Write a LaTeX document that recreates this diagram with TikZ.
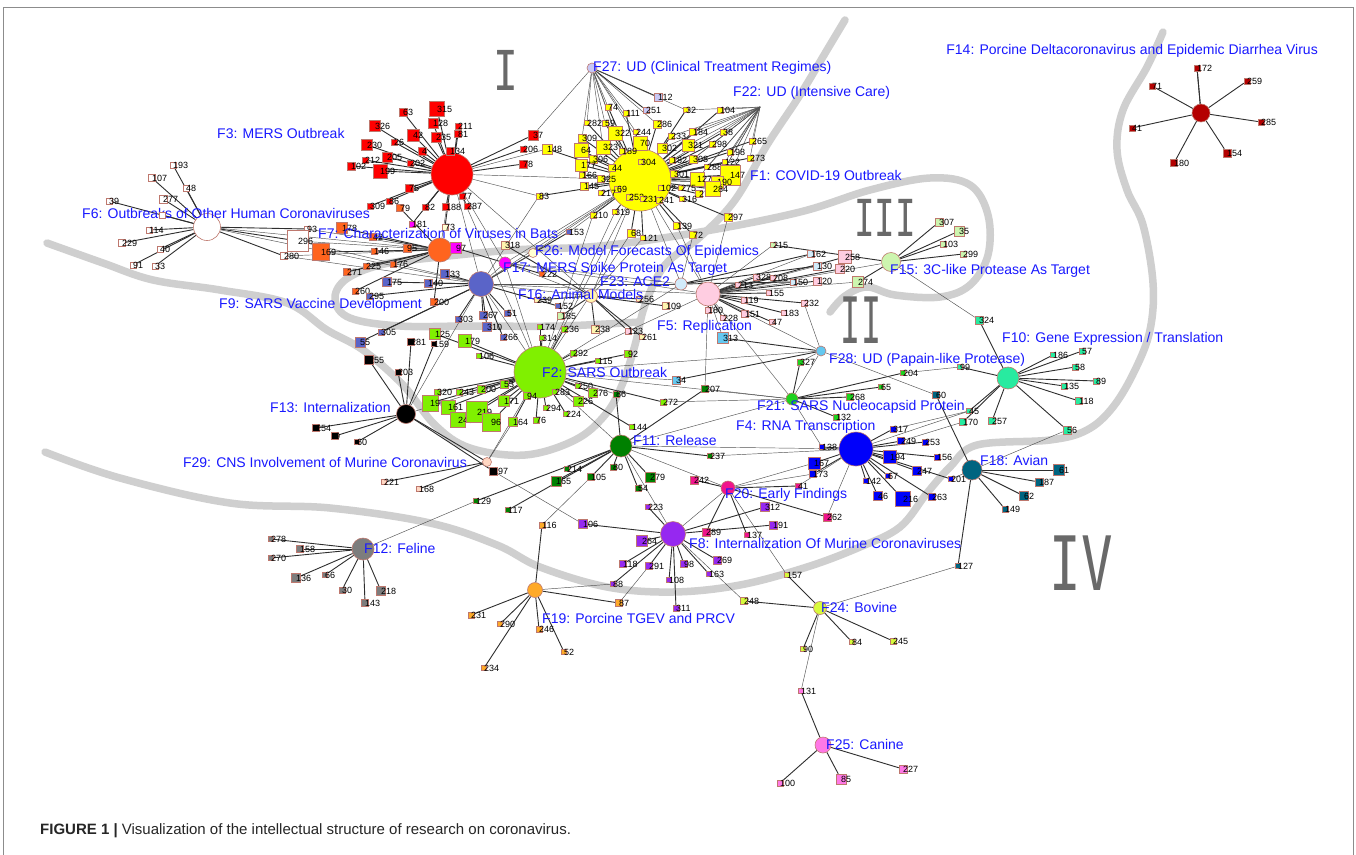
\documentclass[tikz,border=0pt]{standalone}
\usepackage{fontspec}
\setmainfont{Liberation Sans}
\newfontfamily\romfont{DejaVu Sans Mono}
\usepackage{graphicx}
\pgfdeclarelayer{bg}
\pgfsetlayers{bg,main}
\definecolor{sqborder}{RGB}{190,120,110}
\definecolor{labblue}{RGB}{25,25,255}
\definecolor{romgray}{RGB}{105,105,105}
\definecolor{cF1}{RGB}{255,255,0}
\definecolor{cF2}{RGB}{128,240,0}
\definecolor{cF3}{RGB}{255,0,0}
\definecolor{cF4}{RGB}{0,0,250}
\definecolor{cF5}{RGB}{255,205,225}
\definecolor{cF7}{RGB}{255,100,30}
\definecolor{cF8}{RGB}{150,40,240}
\definecolor{cF9}{RGB}{90,100,200}
\definecolor{cF10}{RGB}{40,235,160}
\definecolor{cF11}{RGB}{0,128,0}
\definecolor{cF12}{RGB}{125,125,125}
\definecolor{cF14}{RGB}{180,0,0}
\definecolor{cF15}{RGB}{205,245,175}
\definecolor{cF16}{RGB}{255,245,175}
\definecolor{cF17}{RGB}{255,0,255}
\definecolor{cF18}{RGB}{0,100,128}
\definecolor{cF19}{RGB}{255,170,40}
\definecolor{cF20}{RGB}{240,20,140}
\definecolor{cF21}{RGB}{30,210,30}
\definecolor{cF23}{RGB}{210,235,250}
\definecolor{cF24}{RGB}{215,250,60}
\definecolor{cF25}{RGB}{255,120,230}
\definecolor{cF26}{RGB}{255,255,210}
\definecolor{cF27}{RGB}{200,200,245}
\definecolor{cF28}{RGB}{100,200,240}
\definecolor{cF29}{RGB}{255,215,195}
\tikzset{
  sqb/.style={rectangle, draw=sqborder, line width=0.5pt, inner sep=0pt},
  numl/.style={anchor=west, inner sep=0pt, font=\fontsize{9}{9}\selectfont, text=black},
  hubc/.style={circle, draw=sqborder, line width=0.6pt, inner sep=0pt},
  edg/.style={line width=0.9pt, draw=black!82},
  xedg/.style={line width=0.45pt, draw=black!68},
  flab/.style={anchor=west, inner sep=0pt, font=\fontsize{14}{14}\selectfont, text=labblue},
  roman/.style={inner sep=0pt, text=romgray},
  band/.style={line width=7.5pt, draw=black!19, line cap=round, line join=round}
}
\newcommand\romtext[3]{\scalebox{#2}[1]{\romfont\fontsize{#1}{#1}\selectfont #3}}
\gdef\hubedges{f14/ff172}
\newcommand\sqnode[7]{%
  \node[sqb,minimum size=#4pt,fill=#5] (#1) at (#2,#3) {};%
  \node[numl] (#1t) at (#2,#3) {#6};%
  \xdef\hubedges{\hubedges,#7/#1}}
\begin{document}
\begin{tikzpicture}[x=1pt,y=-1pt]
\useasboundingbox (0,0) rectangle (1356,854);
\begin{pgfonlayer}{bg}
\fill[white] (0,0) rectangle (1356,854);
\draw[black!45, line width=0.8pt] (3,7) rectangle (1353,870);
\draw[band] plot[smooth, tension=0.6] coordinates {(47,243) (103,263) (153,280) (220,290) (287,303) (327,330) (363,350) (403,385) (435,425) (470,448) (525,455) (575,440) (605,415) (622,385) (635,345) (645,305) (665,265) (700,237) (735,200) (767,145) (800,95) (827,50) (845,20)};
\draw[band] plot[smooth, tension=0.6] coordinates {(640,322) (560,326) (470,326) (400,326) (350,318) (335,300) (345,280) (380,265) (430,258) (513,250) (600,246) (700,232) (800,212) (870,190) (930,178) (970,185) (988,215) (988,255) (970,285) (940,297) (895,295) (867,287) (845,296) (830,312)};
\draw[band] plot[smooth, tension=0.6] coordinates {(45,452) (120,478) (230,503) (330,508) (430,523) (497,545) (540,567) (607,587) (673,592) (740,585) (807,567) (860,547) (900,527) (927,493) (950,467) (977,445) (1050,440) (1087,430) (1113,407) (1135,370) (1150,330) (1153,283) (1143,225) (1127,190) (1117,150) (1123,110) (1147,67) (1163,32)};
\end{pgfonlayer}
\node[roman] (r1) at (506,70) {\romtext{55}{0.75}{I}};
\node[roman] (r2) at (861,320) {\romtext{64}{0.52}{II}};
\node[roman] (r3) at (885,218) {\romtext{51}{0.67}{III}};
\node[roman] (r4) at (1081,563) {\romtext{75}{0.7}{IV}};
% hubs
\node[hubc,minimum size=62pt,fill=cF1] (f1) at (640,180) {};
\node[hubc,minimum size=52pt,fill=cF2] (f2) at (540,372) {};
\node[hubc,minimum size=42pt,fill=cF3] (f3) at (452,174) {};
\node[hubc,minimum size=34pt,fill=cF4] (f4) at (856,449) {};
\node[hubc,minimum size=24pt,fill=cF5] (f5) at (708,294) {};
\node[hubc,minimum size=27pt,fill=white] (f6) at (207,227) {};
\node[hubc,minimum size=24pt,fill=cF7] (f7) at (440,250) {};
\node[hubc,minimum size=25pt,fill=cF8] (f8) at (673,534) {};
\node[hubc,minimum size=25pt,fill=cF9] (f9) at (481,284) {};
\node[hubc,minimum size=22pt,fill=cF10] (f10) at (1008,378) {};
\node[hubc,minimum size=22pt,fill=cF11] (f11) at (621,446) {};
\node[hubc,minimum size=22pt,fill=cF12] (f12) at (363,549) {};
\node[hubc,minimum size=19pt,fill=black] (f13) at (406,414) {};
\node[hubc,minimum size=18pt,fill=cF14] (f14) at (1201,113) {};
\node[hubc,minimum size=19pt,fill=cF15] (f15) at (891,262) {};
\node[hubc,minimum size=13pt,fill=cF16] (f16) at (591,296) {};
\node[hubc,minimum size=12pt,fill=cF17] (f17) at (505,263) {};
\node[hubc,minimum size=20pt,fill=cF18] (f18) at (972,470) {};
\node[hubc,minimum size=15pt,fill=cF19] (f19) at (535,590) {};
\node[hubc,minimum size=14pt,fill=cF20] (f20) at (728,488) {};
\node[hubc,minimum size=12pt,fill=cF21] (f21) at (792,399) {};
\coordinate (f22) at (760,107);
\node[hubc,minimum size=12pt,fill=cF23] (f23) at (681,284) {};
\node[hubc,minimum size=13pt,fill=cF24] (f24) at (820,608) {};
\node[hubc,minimum size=16pt,fill=cF25] (f25) at (823,745) {};
\node[hubc,minimum size=9pt,fill=cF26] (f26) at (533,253) {};
\node[hubc,minimum size=10pt,fill=cF27] (f27) at (592,68) {};
\node[hubc,minimum size=10pt,fill=cF28] (f28) at (821,351) {};
\node[hubc,minimum size=9pt,fill=cF29] (f29) at (487,462) {};
% F3 cluster
\sqnode{a63}{403}{112}{8}{cF3}{63}{f3}
\sqnode{a315}{437}{109}{15}{cF3}{315}{f3}
\sqnode{a128}{433}{123}{10}{cF3}{128}{f3}
\sqnode{a211}{458}{126}{6}{cF3}{211}{f3}
\sqnode{a81}{458}{134}{7}{cF3}{81}{f3}
\sqnode{a326}{375}{126}{11}{cF3}{326}{f3}
\sqnode{a26}{394}{142}{6}{cF3}{26}{f3}
\sqnode{a42}{413}{135}{12}{cF3}{42}{f3}
\sqnode{a235}{436}{137}{10}{cF3}{235}{f3}
\sqnode{a134}{450}{151}{8}{cF3}{134}{f3}
\sqnode{a4}{422}{151}{8}{cF3}{4}{f3}
\sqnode{a230}{367}{145}{11}{cF3}{230}{f3}
\sqnode{a205}{387}{157}{10}{cF3}{205}{f3}
\sqnode{a212}{365}{160}{6}{cF3}{212}{f3}
\sqnode{a202}{410}{163}{6}{cF3}{202}{f3}
\sqnode{a102}{351}{166}{8}{cF3}{102}{f3}
\sqnode{a199}{380}{171}{14}{cF3}{199}{f3}
\sqnode{a75}{409}{188}{8}{cF3}{75}{f3}
\sqnode{a86}{389}{201}{6}{cF3}{86}{f3}
\sqnode{a309}{370}{206}{6}{cF3}{309}{f3}
\sqnode{a82}{425}{207}{6}{cF3}{82}{f3}
\sqnode{a188}{446}{207}{7}{cF3}{188}{f3}
\sqnode{a287}{467}{206}{6}{cF3}{287}{f3}
\sqnode{a77}{462}{196}{6}{cF3}{77}{f3}
\sqnode{a37}{533}{135}{10}{cF3}{37}{f3}
\sqnode{a206}{523}{149}{6}{cF3}{206}{f3}
\sqnode{a78}{523}{164}{8}{cF3}{78}{f3}
\sqnode{a181}{412}{224}{6}{cF17}{181}{f3}
\sqnode{a73}{445}{227}{6}{cF26}{73}{f3}
% F6 cluster
\sqnode{w193}{173}{165}{6}{white}{193}{f6}
\sqnode{w107}{152}{178}{7}{white}{107}{f6}
\sqnode{w48}{186}{188}{6}{white}{48}{f6}
\sqnode{w277}{163}{199}{8}{white}{277}{f6}
\sqnode{w39}{109}{201}{6}{white}{39}{f6}
\sqnode{w114}{149}{230}{6}{white}{114}{f6}
\sqnode{w229}{122}{243}{7}{white}{229}{f6}
\sqnode{w40}{160}{249}{6}{white}{40}{f6}
\sqnode{w91}{133}{265}{6}{white}{91}{f6}
\sqnode{w33}{155}{266}{6}{white}{33}{f6}
\sqnode{w93}{307}{229}{5}{white}{93}{f6}
\sqnode{w296}{298}{241}{21}{white}{296}{f6}
\sqnode{w280}{284}{256}{7}{white}{280}{f6}
% F7 cluster
\sqnode{o79}{400}{208}{7}{cF7}{79}{f7}
\sqnode{o178}{342}{228}{11}{cF7}{178}{f7}
\sqnode{o169}{321}{252}{17}{cF7}{169}{f7}
\sqnode{o42}{373}{237}{7}{cF7}{42}{f7}
\sqnode{o146}{374}{251}{6}{cF7}{146}{f7}
\sqnode{o95}{407}{248}{8}{cF7}{95}{f7}
\sqnode{o225}{366}{266}{6}{cF7}{225}{f7}
\sqnode{o176}{393}{264}{6}{cF7}{176}{f7}
\sqnode{o271}{347}{272}{7}{cF7}{271}{f7}
\sqnode{o260}{355}{291}{6}{cF7}{260}{f7}
\sqnode{o200}{434}{302}{7}{cF7}{200}{f7}
\sqnode{o97}{456}{248}{11}{cF17}{97}{f17}
\sqnode{o222}{542}{274}{5}{cF7}{222}{f17}
% F9 cluster
\sqnode{v133}{445}{274}{9}{cF9}{133}{f9}
\sqnode{v175}{387}{282}{9}{cF9}{175}{f9}
\sqnode{v140}{428}{283}{8}{cF9}{140}{f9}
\sqnode{v295}{369}{296}{6}{cF9}{295}{f9}
\sqnode{v303}{458}{319}{6}{cF9}{303}{f9}
\sqnode{v267}{483}{315}{8}{cF9}{267}{f9}
\sqnode{v51}{507}{313}{6}{cF9}{51}{f9}
\sqnode{v310}{487}{327}{9}{cF9}{310}{f9}
\sqnode{v266}{503}{337}{6}{cF9}{266}{f9}
\sqnode{v305}{381}{332}{6}{cF9}{305}{f9}
\sqnode{v55}{360}{342}{10}{cF9}{55}{f9}
\sqnode{v153}{569}{232}{5}{cF9}{153}{f9}
\sqnode{v152}{558}{306}{5}{cF9}{152}{f9}
% F13 cluster
\sqnode{k281}{411}{342}{7}{black}{281}{f13}
\sqnode{k159}{434}{344}{5}{black}{159}{f13}
\sqnode{k255}{369}{360}{9}{black}{255}{f13}
\sqnode{k203}{398}{372}{6}{black}{203}{f13}
\sqnode{k254}{316}{428}{7}{black}{254}{f13}
\sqnode{k9}{335}{436}{7}{black}{9}{f13}
\sqnode{k60}{357}{442}{5}{black}{60}{f13}
\sqnode{k197}{493}{471}{8}{black}{197}{f13}
% F29 cluster
\sqnode{c221}{384}{482}{5}{cF29}{221}{f29}
\sqnode{c168}{419}{489}{5}{cF29}{168}{f29}
% F2 cluster
\sqnode{g125}{435}{334}{11}{cF2}{125}{f2}
\sqnode{g179}{465}{341}{13}{cF2}{179}{f2}
\sqnode{g106}{479}{356}{5}{cF2}{106}{f2}
\sqnode{g174}{540}{327}{5}{cF2}{174}{f2}
\sqnode{g236}{564}{329}{6}{cF2}{236}{f2}
\sqnode{g314}{542}{338}{5}{cF2}{314}{f2}
\sqnode{g292}{573}{353}{6}{cF2}{292}{f2}
\sqnode{g115}{598}{361}{5}{cF2}{115}{f2}
\sqnode{g92}{628}{354}{7}{cF2}{92}{f2}
\sqnode{g320}{437}{392}{6}{cF2}{320}{f2}
\sqnode{g243}{459}{392}{6}{cF2}{243}{f2}
\sqnode{g200}{481}{389}{8}{cF2}{200}{f2}
\sqnode{g53}{504}{384}{8}{cF2}{53}{f2}
\sqnode{g195}{430}{403}{16}{cF2}{195}{f2}
\sqnode{g161}{448}{407}{14}{cF2}{161}{f2}
\sqnode{g240}{458}{420}{15}{cF2}{240}{f2}
\sqnode{g219}{477}{412}{21}{cF2}{219}{f2}
\sqnode{g96}{491}{422}{18}{cF2}{96}{f2}
\sqnode{g171}{504}{401}{11}{cF2}{171}{f2}
\sqnode{g94}{527}{396}{7}{cF2}{94}{f2}
\sqnode{g164}{513}{422}{9}{cF2}{164}{f2}
\sqnode{g76}{536}{420}{6}{cF2}{76}{f2}
\sqnode{g294}{546}{408}{5}{cF2}{294}{f2}
\sqnode{g224}{566}{414}{5}{cF2}{224}{f2}
\sqnode{g283}{555}{392}{5}{cF2}{283}{f2}
\sqnode{g250}{578}{386}{5}{cF2}{250}{f2}
\sqnode{g276}{593}{393}{9}{cF2}{276}{f2}
\sqnode{g226}{578}{401}{10}{cF2}{226}{f2}
\sqnode{g272}{663}{402}{6}{cF2}{272}{f2}
\sqnode{g144}{632}{427}{5}{cF2}{144}{f2}
% F16 cluster
\sqnode{h318}{505}{245}{8}{cF16}{318}{f16}
\sqnode{h239}{537}{300}{5}{cF16}{239}{f16}
\sqnode{h185}{561}{316}{7}{cF15}{185}{f16}
\sqnode{h238}{595}{329}{8}{cF16}{238}{f16}
\sqnode{h256}{639}{299}{5}{cF16}{256}{f16}
\sqnode{h109}{666}{306}{7}{cF16}{109}{f16}
\sqnode{h123}{628}{331}{6}{cF5}{123}{f16}
\sqnode{h261}{642}{337}{5}{cF16}{261}{f16}
% F1 cluster
\sqnode{y74}{608}{107}{6}{cF1}{74}{f1}
\sqnode{y111}{626}{113}{6}{cF1}{111}{f1}
\sqnode{q251}{646}{110}{6}{cF27}{251}{f27}
\sqnode{q112}{658}{97}{8}{cF27}{112}{f27}
\sqnode{y32}{686}{110}{5}{cF1}{32}{f1}
\sqnode{y104}{720}{110}{6}{cF1}{104}{f1}
\sqnode{y282}{587}{123}{5}{cF1}{282}{f1}
\sqnode{y59}{605}{123}{6}{cF1}{59}{f1}
\sqnode{y322}{615}{133}{14}{cF1}{322}{f1}
\sqnode{y286}{657}{124}{8}{cF1}{286}{f1}
\sqnode{y244}{636}{132}{5}{cF1}{244}{f1}
\sqnode{y233}{671}{136}{6}{cF1}{233}{f1}
\sqnode{y184}{693}{132}{7}{cF1}{184}{f1}
\sqnode{y38}{723}{132}{6}{cF1}{38}{f1}
\sqnode{y309}{582}{138}{8}{cF1}{309}{f1}
\sqnode{y64}{581}{150}{14}{cF1}{64}{f1}
\sqnode{y323}{603}{147}{14}{cF1}{323}{f1}
\sqnode{y70}{640}{143}{14}{cF1}{70}{f1}
\sqnode{y189}{622}{151}{6}{cF1}{189}{f1}
\sqnode{y302}{662}{148}{10}{cF1}{302}{f1}
\sqnode{y321}{688}{145}{12}{cF1}{321}{f1}
\sqnode{y298}{712}{144}{6}{cF1}{298}{f1}
\sqnode{y306}{593}{159}{8}{cF1}{306}{f1}
\sqnode{y182}{672}{160}{6}{cF1}{182}{f1}
\sqnode{y308}{693}{159}{8}{cF1}{308}{f1}
\sqnode{y198}{730}{152}{6}{cF1}{198}{f1}
\sqnode{y122}{725}{162}{5}{cF1}{122}{f1}
\sqnode{y177}{581}{165}{12}{cF1}{177}{f1}
\sqnode{y44}{612}{168}{7}{cF1}{44}{f1}
\sqnode{y304}{641}{162}{5}{cF1}{304}{f1}
\sqnode{y288}{707}{167}{5}{cF1}{288}{f1}
\sqnode{y166}{582}{175}{6}{cF1}{166}{f1}
\sqnode{y325}{601}{179}{7}{cF1}{325}{f1}
\sqnode{y301}{674}{174}{7}{cF1}{301}{f1}
\sqnode{y147}{730}{175}{20}{cF1}{147}{f1}
\sqnode{y127}{697}{179}{14}{cF1}{127}{f1}
\sqnode{y190}{717}{182}{12}{cF1}{190}{f1}
\sqnode{y145}{584}{186}{8}{cF1}{145}{f1}
\sqnode{y69}{617}{189}{6}{cF1}{69}{f1}
\sqnode{y217}{601}{193}{5}{cF1}{217}{f1}
\sqnode{y102}{661}{188}{5}{cF1}{102}{f1}
\sqnode{y275}{681}{188}{5}{cF1}{275}{f1}
\sqnode{y27}{699}{194}{7}{cF1}{27}{f1}
\sqnode{y284}{713}{189}{15}{cF1}{284}{f1}
\sqnode{y252}{629}{197}{6}{cF1}{252}{f1}
\sqnode{y231}{643}{199}{5}{cF1}{231}{f1}
\sqnode{y241}{659}{200}{6}{cF1}{241}{f1}
\sqnode{y316}{682}{199}{5}{cF1}{316}{f1}
\sqnode{y210}{593}{215}{6}{cF1}{210}{f1}
\sqnode{y319}{615}{212}{5}{cF1}{319}{f1}
\sqnode{y297}{728}{217}{8}{cF1}{297}{f1}
\sqnode{y139}{677}{226}{7}{cF1}{139}{f1}
\sqnode{y265}{752}{141}{6}{cF1}{265}{f1}
\sqnode{y273}{750}{158}{6}{cF1}{273}{f1}
\sqnode{y83}{539}{196}{6}{cF1}{83}{f1}
\sqnode{y68}{631}{233}{8}{cF1}{68}{f1}
\sqnode{y121}{643}{238}{5}{cF1}{121}{f1}
\sqnode{y72}{693}{235}{7}{cF1}{72}{f1}
\sqnode{y148}{547}{149}{10}{cF1}{148}{f1}
% F5 cluster
\sqnode{p328}{756}{277}{6}{cF5}{328}{f5}
\sqnode{p208}{773}{278}{5}{cF5}{208}{f5}
\sqnode{p120}{817}{281}{8}{cF5}{120}{f5}
\sqnode{p213}{738}{285}{5}{cF5}{213}{f5}
\sqnode{p155}{769}{293}{5}{cF5}{155}{f5}
\sqnode{p119}{744}{300}{6}{cF5}{119}{f5}
\sqnode{p232}{804}{303}{6}{cF5}{232}{f5}
\sqnode{p180}{708}{310}{6}{cF5}{180}{f5}
\sqnode{p228}{723}{318}{5}{cF5}{228}{f5}
\sqnode{p151}{745}{314}{7}{cF5}{151}{f5}
\sqnode{p183}{784}{313}{5}{cF5}{183}{f5}
\sqnode{p47}{772}{322}{5}{cF5}{47}{f5}
\sqnode{p258}{845}{257}{13}{cF5}{258}{f5}
\sqnode{p220}{840}{269}{9}{cF5}{220}{f5}
\sqnode{u162}{811}{254}{7}{cF23}{162}{f23}
\sqnode{u130}{817}{266}{8}{cF23}{130}{f23}
\sqnode{u150}{793}{282}{6}{cF23}{150}{f23}
% F15 cluster
\sqnode{e215}{773}{245}{5}{cF15}{215}{f15}
\sqnode{e274}{858}{282}{11}{cF15}{274}{f15}
\sqnode{e307}{939}{222}{8}{cF15}{307}{f15}
\sqnode{e35}{959}{231}{10}{cF15}{35}{f15}
\sqnode{e103}{943}{244}{6}{cF15}{103}{f15}
\sqnode{e299}{963}{254}{6}{cF15}{299}{f15}
% F28
\sqnode{s313}{723}{338}{11}{cF28}{313}{f28}
\sqnode{s34}{676}{380}{8}{cF28}{34}{f28}
% F21 cluster
\sqnode{n327}{800}{362}{6}{cF21}{327}{f21}
\sqnode{n204}{903}{373}{5}{cF21}{204}{f21}
\sqnode{n65}{881}{387}{5}{cF21}{65}{f21}
\sqnode{n268}{850}{397}{7}{cF21}{268}{f21}
\sqnode{n132}{836}{417}{6}{cF21}{132}{f21}
% F11 cluster
\sqnode{d207}{705}{389}{7}{cF11}{207}{f11}
\sqnode{d237}{710}{456}{5}{cF11}{237}{f11}
\sqnode{d86}{616}{394}{6}{cF11}{86}{f11}
\sqnode{d214}{567}{469}{5}{cF11}{214}{f11}
\sqnode{d165}{556}{481}{10}{cF11}{165}{f11}
\sqnode{d105}{591}{477}{7}{cF11}{105}{f11}
\sqnode{d80}{613}{467}{6}{cF11}{80}{f11}
\sqnode{d279}{650}{477}{10}{cF11}{279}{f11}
\sqnode{d54}{638}{488}{6}{cF11}{54}{f11}
\sqnode{d129}{476}{501}{5}{cF11}{129}{f11}
\sqnode{d117}{508}{510}{5}{cF11}{117}{f11}
% F10 cluster
\sqnode{t324}{979}{320}{8}{cF10}{324}{f10}
\sqnode{t99}{960}{367}{5}{cF10}{99}{f10}
\sqnode{t45}{969}{411}{5}{cF10}{45}{f10}
\sqnode{t170}{963}{422}{7}{cF10}{170}{f10}
\sqnode{t257}{992}{421}{7}{cF10}{257}{f10}
\sqnode{t186}{1053}{355}{5}{cF10}{186}{f10}
\sqnode{t57}{1082}{351}{6}{cF10}{57}{f10}
\sqnode{t58}{1075}{367}{6}{cF10}{58}{f10}
\sqnode{t89}{1096}{381}{6}{cF10}{89}{f10}
\sqnode{t135}{1064}{386}{6}{cF10}{135}{f10}
\sqnode{t118}{1079}{401}{7}{cF10}{118}{f10}
\sqnode{t56}{1067}{430}{8}{cF10}{56}{f10}
% F18 cluster
\sqnode{m60}{936}{395}{7}{cF18}{60}{f18}
\sqnode{m61}{1059}{470}{11}{cF18}{61}{f18}
\sqnode{m187}{1039}{482}{8}{cF18}{187}{f18}
\sqnode{m62}{1024}{496}{9}{cF18}{62}{f18}
\sqnode{m149}{1005}{509}{6}{cF18}{149}{f18}
\sqnode{m127}{958}{566}{5}{cF18}{127}{f18}
% F4 cluster
\sqnode{b317}{893}{429}{6}{cF4}{317}{f4}
\sqnode{b249}{901}{441}{7}{cF4}{249}{f4}
\sqnode{b253}{925}{442}{6}{cF4}{253}{f4}
\sqnode{b138}{822}{447}{5}{cF4}{138}{f4}
\sqnode{b167}{814}{463}{12}{cF4}{167}{f4}
\sqnode{b173}{813}{474}{7}{cF4}{173}{f4}
\sqnode{b194}{890}{457}{13}{cF4}{194}{f4}
\sqnode{b156}{937}{457}{6}{cF4}{156}{f4}
\sqnode{b247}{917}{471}{9}{cF4}{247}{f4}
\sqnode{b142}{866}{481}{5}{cF4}{142}{f4}
\sqnode{b67}{888}{476}{5}{cF4}{67}{f4}
\sqnode{b201}{951}{479}{5}{cF4}{201}{f4}
\sqnode{b46}{878}{496}{9}{cF4}{46}{f4}
\sqnode{b216}{903}{499}{15}{cF4}{216}{f4}
\sqnode{b263}{932}{497}{7}{cF4}{263}{f4}
% F20 cluster
\sqnode{r41}{798}{486}{5}{cF20}{41}{f20}
\sqnode{r242}{694}{480}{8}{cF20}{242}{f20}
\sqnode{r262}{827}{517}{8}{cF20}{262}{f20}
\sqnode{r289}{706}{532}{8}{cF20}{289}{f20}
\sqnode{r137}{747}{535}{5}{cF20}{137}{f20}
% F8 cluster
\sqnode{z312}{765}{507}{9}{cF8}{312}{f8}
\sqnode{z191}{773}{525}{8}{cF8}{191}{f8}
\sqnode{z223}{648}{507}{5}{cF8}{223}{f8}
\sqnode{z106}{583}{524}{9}{cF8}{106}{f8}
\sqnode{z264}{642}{541}{11}{cF8}{264}{f8}
\sqnode{z118}{623}{564}{7}{cF8}{118}{f8}
\sqnode{z291}{649}{566}{7}{cF8}{291}{f8}
\sqnode{z98}{684}{564}{7}{cF8}{98}{f8}
\sqnode{z269}{717}{560}{8}{cF8}{269}{f8}
\sqnode{z163}{709}{574}{5}{cF8}{163}{f8}
\sqnode{z108}{669}{580}{5}{cF8}{108}{f8}
\sqnode{z311}{676}{608}{6}{cF8}{311}{f8}
\sqnode{z88}{613}{584}{5}{cF8}{88}{f8}
% F19 cluster
\sqnode{j116}{542}{525}{6}{cF19}{116}{f19}
\sqnode{j87}{619}{603}{7}{cF19}{87}{f19}
\sqnode{j231}{471}{615}{6}{cF19}{231}{f19}
\sqnode{j290}{500}{624}{5}{cF19}{290}{f19}
\sqnode{j246}{539}{629}{6}{cF19}{246}{f19}
\sqnode{j52}{564}{652}{5}{cF19}{52}{f19}
\sqnode{j234}{484}{668}{5}{cF19}{234}{f19}
% F24 cluster
\sqnode{i157}{787}{575}{5}{cF24}{157}{f24}
\sqnode{i248}{744}{601}{7}{cF24}{248}{f24}
\sqnode{i90}{803}{649}{5}{cF24}{90}{f24}
\sqnode{i84}{852}{642}{5}{cF24}{84}{f24}
\sqnode{i245}{893}{641}{6}{cF24}{245}{f24}
% F25 cluster
\sqnode{x131}{801}{691}{5}{cF25}{131}{f25}
\sqnode{x100}{780}{783}{6}{cF25}{100}{f25}
\sqnode{x85}{841}{779}{10}{cF25}{85}{f25}
\sqnode{x227}{903}{769}{8}{cF25}{227}{f25}
% F12 cluster
\sqnode{l278}{271}{539}{5}{cF12}{278}{f12}
\sqnode{l158}{300}{549}{7}{cF12}{158}{f12}
\sqnode{l270}{271}{558}{5}{cF12}{270}{f12}
\sqnode{l136}{296}{578}{9}{cF12}{136}{f12}
\sqnode{l66}{325}{575}{5}{cF12}{66}{f12}
\sqnode{l30}{342}{590}{6}{cF12}{30}{f12}
\sqnode{l143}{365}{603}{7}{cF12}{143}{f12}
\sqnode{l218}{381}{591}{9}{cF12}{218}{f12}
% F14 cluster
\sqnode{ff172}{1197}{68}{6}{cF14}{172}{f14}
\sqnode{ff71}{1152}{86}{6}{cF14}{71}{f14}
\sqnode{ff259}{1247}{81}{6}{cF14}{259}{f14}
\sqnode{ff41}{1132}{128}{6}{cF14}{41}{f14}
\sqnode{ff285}{1261}{122}{6}{cF14}{285}{f14}
\sqnode{ff154}{1227}{153}{8}{cF14}{154}{f14}
\sqnode{ff180}{1174}{163}{7}{cF14}{180}{f14}
% cluster labels
\node[flab] (lf1) at (750,175) {F1: COVID-19 Outbreak};
\node[flab] (lf2) at (542,372) {F2: SARS Outbreak};
\node[flab] (lf3) at (217,133) {F3: MERS Outbreak};
\node[flab] (lf4) at (736,427) {F4: RNA Transcription};
\node[flab] (lf5) at (657,327) {F5: Replication};
\node[flab] (lf6) at (82,213) {F6: Outbreaks of Other Human Coronaviruses};
\node[flab] (lf7) at (318,233) {F7: Characterization of Viruses in Bats};
\node[flab] (lf8) at (689,543) {F8: Internalization Of Murine Coronaviruses};
\node[flab] (lf9) at (219,305) {F9: SARS Vaccine Development};
\node[flab] (lf10) at (1002,339) {F10: Gene Expression / Translation};
\node[flab] (lf11) at (633,440) {F11: Release};
\node[flab] (lf12) at (364,548) {F12: Feline};
\node[flab] (lf13) at (270,407) {F13: Internalization};
\node[flab,anchor=east] (lf14) at (1318,51) {F14: Porcine Deltacoronavirus and Epidemic Diarrhea Virus};
\node[flab] (lf15) at (890,271) {F15: 3C-like Protease As Target};
\node[flab] (lf16) at (518,294) {F16: Animal Models};
\node[flab] (lf17) at (503,269) {F17: MERS Spike Protein As Target};
\node[flab] (lf18) at (980,460) {F18: Avian};
\node[flab] (lf19) at (542,618) {F19: Porcine TGEV and PRCV};
\node[flab] (lf20) at (725,495) {F20: Early Findings};
\node[flab] (lf21) at (757,407) {F21: SARS Nucleocapsid Protein};
\node[flab] (lf22) at (733,93) {F22: UD (Intensive Care)};
\node[flab] (lf23) at (600,282) {F23: ACE2};
\node[flab] (lf24) at (821,607) {F24: Bovine};
\node[flab] (lf25) at (826,744) {F25: Canine};
\node[flab] (lf26) at (535,252) {F26: Model Forecasts Of Epidemics};
\node[flab] (lf27) at (593,68) {F27: UD (Clinical Treatment Regimes)};
\node[flab] (lf28) at (829,360) {F28: UD (Papain-like Protease)};
\node[flab,anchor=east] (lf29) at (467,462) {F29: CNS Involvement of Murine Coronavirus};
% small square partly covering the F6 label
\node[sqb,minimum size=6pt,fill=white] (w8) at (162,215) {};
% connectors (one background block)
\begin{pgfonlayer}{bg}
\foreach \a/\b in \hubedges {\draw[edg] (\a) -- (\b);}
\draw[edg] (f6) -- (w8);
\draw[edg] (f13) -- (f29);
\foreach \a/\b in {f27/a37,f27/y74,f27/y111,f27/y282,f27/y59,f27/y322,f27/y286,f27/y244,f27/y70,f27/y189,f27/y32,f27/y309,f27/y323,
  f22/y104,f22/y32,f22/y184,f22/y38,f22/y233,f22/y321,f22/y298,f22/y198,f22/y122,f22/y265,f22/y273,f22/y308,f22/y288,f22/y147,f22/y190,f22/y301,f22/y302,f22/y182,f22/y127,f22/y284,
  f6/f7,f6/f9,w93/f7,w296/f7,w280/f9,w296/f9,w280/f7,
  f3/f9,f3/f7,f3/f17,f3/f2,f3/f1,f3/f16,
  f1/f9,f1/f17,f1/f2,f1/f16,f1/f23,f1/f26,f1/f5,
  y83/f9,y83/f3,y210/f2,y319/f2,y68/f2,y121/f16,y139/f5,y72/f23,y297/f5,y148/f3,v153/f1,
  f9/f2,f9/f13,f9/f16,f9/f23,f9/f5,f9/f17,f9/f26,
  f17/f5,f17/f23,f17/f2,f17/f16,
  f2/f11,f2/f5,f2/f23,f2/f29,f2/f21,f2/f28,f2/f13,
  k197/z106,f29/g164,
  f11/f8,f11/f20,f11/f4,f11/f21,f12/d129,j116/d105,
  f19/z88,j87/z291,
  f20/b167,f20/b173,f20/f8,r41/f4,f20/i157,
  f21/b138,f21/f28,n204/t99,f21/f5,n327/f28,
  f28/f5,f28/p232,f28/m60,
  m127/f24,f18/t56,b201/f18,
  f15/f5,t324/f15,e274/f5,e215/f5,
  x131/f24,i248/f8,
  t45/b317,t170/b249,t45/f4,r262/f4,
  s34/f2,s313/f5,d207/f21,d207/f5,d237/f4,g272/f21,d86/f2,
  u162/f5,u130/f5,u150/f5}
  {\draw[xedg] (\a) -- (\b);}
\end{pgfonlayer}
\node[anchor=west, inner sep=0pt, font=\fontsize{15}{15}\selectfont, text=black!85] (cap) at (40,831) {\textbf{FIGURE 1 |} Visualization of the intellectual structure of research on coronavirus.};
\end{tikzpicture}
\end{document}
